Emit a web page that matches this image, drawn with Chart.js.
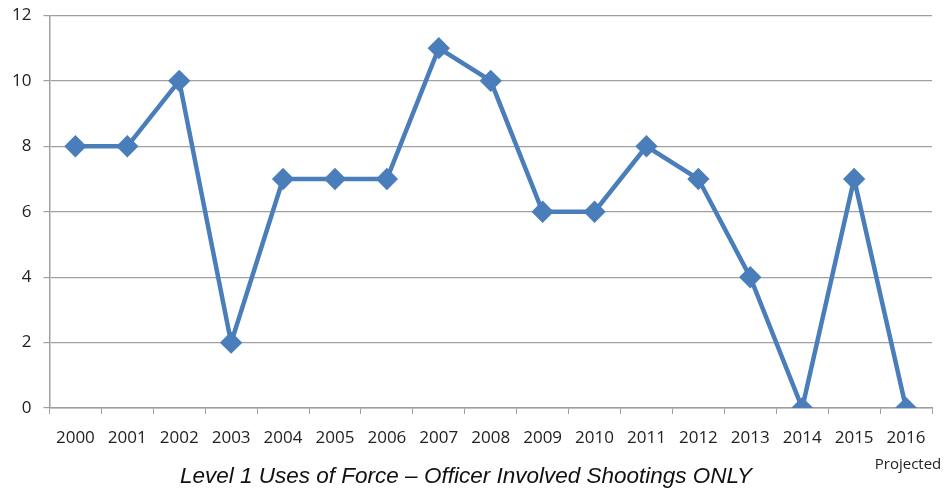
<!DOCTYPE html>
<html>
<head>
<meta charset="utf-8">
<script src="https://cdn.jsdelivr.net/npm/chart.js@4"></script>
<style>
  html, body { margin: 0; padding: 0; background: #fff; }
  #wrap { width: 945px; height: 488px; }
</style>
</head>
<body>
<div id="wrap"><canvas id="chart" width="945" height="488"></canvas></div>
<script>
// chart data
const years = ['2000', '2001', '2002', '2003', '2004', '2005', '2006', '2007', '2008',
  '2009', '2010', '2011', '2012', '2013', '2014', '2015', '2016'];
const shootings = [8, 8, 10, 2, 7, 7, 7, 11, 10, 6, 6, 8, 7, 4, 0, 7, 0];
const yTicks = [0, 2, 4, 6, 8, 10, 12];
const titleText = 'Level 1 Uses of Force \u2013 Officer Involved Shootings ONLY';
const projectedNote = 'Projected';

const lineBlue = '#4a7ebb';
const axisGray = '#a0a0a0';

// draws the "Projected" note under the last year
const projectedLabel = {
  id: 'projectedLabel',
  afterDraw(chart) {
    const x = chart.scales.x.getPixelForValue(years.length - 1);
    const ctx = chart.ctx;
    ctx.save();
    ctx.font = '15px "Open Sans"';
    ctx.fillStyle = '#222';
    ctx.textAlign = 'center';
    ctx.textBaseline = 'middle';
    ctx.fillText(projectedNote, x + 2, 465);
    ctx.restore();
  }
};

new Chart(document.getElementById('chart'), {
  type: 'line',
  data: {
    labels: years,
    datasets: [{
      data: shootings,
      borderColor: lineBlue,
      backgroundColor: lineBlue,
      borderWidth: 4.5,
      pointStyle: 'rectRot',
      pointRadius: 8,
      pointHoverRadius: 8,
      tension: 0
    }]
  },
  options: {
    responsive: false,
    animation: false,
    layout: { padding: { top: 0, right: 13, left: 0, bottom: 0 } },
    plugins: {
      legend: { display: false },
      tooltip: { enabled: false },
      title: {
        display: true,
        position: 'bottom',
        text: titleText,
        color: '#111',
        font: { family: '"Liberation Sans", Arial', size: 22.5, style: 'italic', weight: 'normal', lineHeight: 1 },
        padding: { top: 3, bottom: 0 }
      }
    },
    scales: {
      x: {
        offset: true,
        grid: {
          offset: true,
          drawOnChartArea: false,
          drawTicks: true,
          tickLength: 6,
          color: axisGray
        },
        border: { color: axisGray, width: 1.5 },
        ticks: {
          color: '#222',
          font: { family: '"Open Sans"', size: 17 },
          padding: 14,
          maxRotation: 0,
          autoSkip: false
        }
      },
      y: {
        min: 0,
        max: 12,
        afterBuildTicks(axis) { axis.ticks = yTicks.map(v => ({ value: v })); },
        grid: {
          color: axisGray,
          lineWidth: 1.2,
          drawTicks: true,
          tickLength: 6
        },
        border: { color: axisGray, width: 1.5 },
        ticks: {
          color: '#222',
          font: { family: '"Open Sans"', size: 17, lineHeight: 0.4 },
          padding: 12
        }
      }
    }
  },
  plugins: [projectedLabel]
});
</script>
</body>
</html>
